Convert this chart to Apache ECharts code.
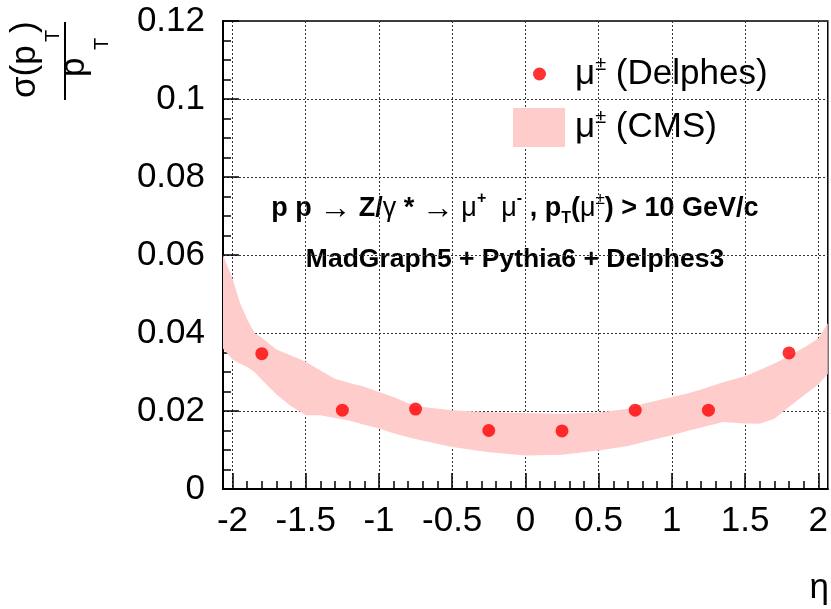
<!DOCTYPE html>
<html>
<head>
<meta charset="utf-8">
<script src="https://cdn.jsdelivr.net/npm/echarts@6/dist/echarts.min.js"></script>
<style>
html, body { margin: 0; padding: 0; background: #fff; }
#main { width: 831px; height: 609px; }
</style>
</head>
<body>
<div id="main"></div>
<script>
// eta ticks (labels) and resolution ticks
var etaTicks = [-2, -1.5, -1, -0.5, 0, 0.5, 1, 1.5, 2];
var resTicks = [0, 0.02, 0.04, 0.06, 0.08, 0.1, 0.12];

// Delphes points
var delphesEta = [-1.8, -1.25, -0.75, -0.25, 0.25, 0.75, 1.25, 1.8];
var delphesRes = [0.0347, 0.0202, 0.0205, 0.0150, 0.0149, 0.0202, 0.0202, 0.0349];

// CMS band (lower / upper edge)
var cmsEta  = [-2.065, -2.0, -1.95, -1.9, -1.85, -1.8, -1.7, -1.6, -1.5, -1.4, -1.3, -1.2, -1.1, -1.0, -0.9, -0.8, -0.7, -0.5, -0.25, 0, 0.25, 0.5, 0.7, 0.8, 1.0, 1.1, 1.2, 1.35, 1.5, 1.6, 1.7, 1.8, 1.9, 2.0, 2.065];
var cmsHigh = [0.0600, 0.0540, 0.0478, 0.0435, 0.0400, 0.0388, 0.0358, 0.0342, 0.0326, 0.0304, 0.0283, 0.0272, 0.0262, 0.0249, 0.0236, 0.0220, 0.0210, 0.0202, 0.0197, 0.0195, 0.0193, 0.0196, 0.0206, 0.0218, 0.0236, 0.0244, 0.0255, 0.0274, 0.0289, 0.0305, 0.0322, 0.0341, 0.0362, 0.0386, 0.0425];
var cmsLow  = [0.0360, 0.0332, 0.0322, 0.0313, 0.0300, 0.0280, 0.0242, 0.0212, 0.0189, 0.0189, 0.0182, 0.0175, 0.0165, 0.0155, 0.0143, 0.0133, 0.0124, 0.0108, 0.0094, 0.0086, 0.0088, 0.0099, 0.0110, 0.0120, 0.0138, 0.0148, 0.0158, 0.0172, 0.0168, 0.0167, 0.0180, 0.0210, 0.0240, 0.0268, 0.0295];

var nameDelphes = 'μ± (Delphes)';
var nameCms = 'μ± (CMS)';

// minor eta ticks every 0.1 between the labelled ones
var etaMinor = [];
for (var i = 1; i < etaTicks.length; i++) {
    for (var k = 1; k < 5; k++) {
        etaMinor.push(+(etaTicks[i - 1] + k * (etaTicks[i] - etaTicks[i - 1]) / 5).toFixed(2));
    }
}

var FONT = '"Liberation Sans", Arial, Helvetica, sans-serif';
var gridLine = { show: true, lineStyle: { color: '#333', width: 1, type: [2, 2] } };

function legendRich(padLeft) {
    return {
        mu: { fontFamily: FONT, fontSize: 35, color: '#000', lineHeight: 40, padding: [0, 0, 0, padLeft] },
        pm: { fontFamily: FONT, fontSize: 20, color: '#000', lineHeight: 28, verticalAlign: 'top' },
        t:  { fontFamily: FONT, fontSize: 35, color: '#000', lineHeight: 40 }
    };
}
function legendFmt(name) {
    var rest = name.replace('μ±', '');
    return '{mu|μ}{pm|±}{t|' + rest + '}';
}

var myChart = echarts.init(document.getElementById('main'));

var ann1Rich = {
    b:   { fontFamily: FONT, fontWeight: 'bold', fontSize: 27, lineHeight: 36, color: '#000' },
    s:   { fontFamily: FONT, fontSize: 27, lineHeight: 36, color: '#000' },
    ar:  { fontFamily: FONT, fontSize: 32, lineHeight: 36, color: '#000' },
    sup: { fontFamily: FONT, fontWeight: 'bold', fontSize: 16, lineHeight: 2, verticalAlign: 'top', color: '#000' },
    smi: { fontFamily: FONT, fontWeight: 'bold', fontSize: 16, lineHeight: 10, verticalAlign: 'top', color: '#000' },
    sub: { fontFamily: FONT, fontWeight: 'bold', fontSize: 16, lineHeight: 1, verticalAlign: 'bottom', color: '#000' },
    spm: { fontFamily: FONT, fontSize: 17, lineHeight: 30, verticalAlign: 'top', color: '#000' }
};

option = {
    backgroundColor: '#fff',
    animation: false,
    grid: {
        left: 223, right: 2, top: 21, bottom: 120,
        show: true, borderColor: '#000', borderWidth: 1.5, backgroundColor: 'transparent'
    },
    legend: [
        {
            data: [nameDelphes], left: 533, top: 54, padding: 0,
            itemWidth: 13, itemHeight: 13, icon: 'circle', selectedMode: false,
            formatter: legendFmt, textStyle: { rich: legendRich(24) }
        },
        {
            data: [nameCms], left: 513, top: 107.5, padding: 0,
            itemWidth: 52, itemHeight: 39, icon: 'rect', selectedMode: false,
            formatter: legendFmt, textStyle: { rich: legendRich(5) }
        }
    ],
    xAxis: [
        {
            type: 'value', min: -2.065, max: 2.065, splitNumber: 8,
            axisLine: { onZero: false, lineStyle: { color: '#000', width: 2 } },
            axisTick: { inside: true, length: 16, customValues: etaTicks, lineStyle: { color: '#000', width: 1.5 } },
            axisLabel: { customValues: etaTicks, fontFamily: FONT, fontSize: 35, color: '#000', margin: 15 },
            splitLine: gridLine
        },
        {
            type: 'value', min: -2.065, max: 2.065, position: 'bottom',
            axisLine: { show: false, onZero: false },
            axisTick: { inside: true, length: 8, customValues: etaMinor, lineStyle: { color: '#000', width: 1.5 } },
            axisLabel: { show: false },
            splitLine: { show: false }
        }
    ],
    yAxis: {
        type: 'value', min: 0, max: 0.12, interval: 0.02,
        axisLine: { onZero: false, lineStyle: { color: '#000', width: 2 } },
        axisTick: { inside: true, length: 16, lineStyle: { color: '#000', width: 1.5 } },
        minorTick: { show: true, splitNumber: 4, length: 8, lineStyle: { color: '#000', width: 1.5 } },
        axisLabel: { fontFamily: FONT, fontSize: 35, color: '#000', margin: 18,
            customValues: resTicks },
        splitLine: gridLine
    },
    graphic: [
        // y axis title: sigma(pT)/pT, rotated
        {
            type: 'group', x: 65, y: 100, rotation: Math.PI / 2,
            children: [
                { type: 'line', shape: { x1: 0, y1: 0, x2: 78, y2: 0 }, style: { stroke: '#000', lineWidth: 2 } },
                { type: 'text', x: 2, y: -40, style: { text: 'σ(p', font: '35px ' + FONT, fill: '#000', align: 'left', verticalAlign: 'middle', textAlign: 'left', textVerticalAlign: 'middle' } },
                { type: 'text', x: 58, y: -11.5, style: { text: 'T', font: '20px ' + FONT, fill: '#000', align: 'left', verticalAlign: 'middle', textAlign: 'left', textVerticalAlign: 'middle' } },
                { type: 'text', x: 67, y: -40, style: { text: ')', font: '35px ' + FONT, fill: '#000', align: 'left', verticalAlign: 'middle', textAlign: 'left', textVerticalAlign: 'middle' } },
                { type: 'text', x: 23, y: 9, style: { text: 'p', font: '35px ' + FONT, fill: '#000', align: 'left', verticalAlign: 'middle', textAlign: 'left', textVerticalAlign: 'middle' } },
                { type: 'text', x: 50, y: 37, style: { text: 'T', font: '20px ' + FONT, fill: '#000', align: 'left', verticalAlign: 'middle', textAlign: 'left', textVerticalAlign: 'middle' } }
            ]
        },
        // x axis title
        { type: 'text', x: 829, y: 588, style: { text: 'η', font: '35px ' + FONT, fill: '#000', align: 'right', verticalAlign: 'middle', textAlign: 'right', textVerticalAlign: 'middle' } },
        // process line
        {
            type: 'text', x: 515, y: 209,
            style: {
                text: '{b|p p }{ar|→}{b| Z/}{s|γ}{b| * }{ar|→}{s| μ}{sup|+}{s|  μ}{smi|-}{b| , p}{sub|T}{b|(}{s|μ}{spm|±}{b|) > 10 GeV/c}',
                rich: ann1Rich, align: 'center', verticalAlign: 'middle', textAlign: 'center', textVerticalAlign: 'middle'
            }
        },
        {
            type: 'text', x: 515, y: 259.5,
            style: {
                text: 'MadGraph5 + Pythia6 + Delphes3', font: 'bold 26.5px ' + FONT, fill: '#000',
                align: 'center', verticalAlign: 'middle', textAlign: 'center', textVerticalAlign: 'middle'
            }
        }
    ],
    series: [
        {
            type: 'custom', name: nameCms, xAxisIndex: 0, z: 1,
            itemStyle: { color: '#ffcccc' },
            data: cmsEta.map(function (x, i) { return [x, cmsLow[i], cmsHigh[i]]; }),
            encode: { x: 0, y: [1, 2] },
            renderItem: function (params, api) {
                if (params.dataIndex !== 0) return null;
                var pts = [];
                for (var a = 0; a < cmsEta.length; a++) pts.push(api.coord([cmsEta[a], cmsHigh[a]]));
                for (var b = cmsEta.length - 1; b >= 0; b--) pts.push(api.coord([cmsEta[b], cmsLow[b]]));
                return { type: 'polygon', shape: { points: pts }, style: { fill: api.visual('color') } };
            }
        },
        {
            type: 'scatter', name: nameDelphes, xAxisIndex: 0, z: 5,
            symbol: 'circle', symbolSize: 13,
            itemStyle: { color: '#ff0000' },
            data: delphesEta.map(function (x, i) { return [x, delphesRes[i]]; })
        }
    ]
};

myChart.setOption(option, true);
window.addEventListener('resize', function () {
    myChart.resize();
});
</script>
</body>
</html>
